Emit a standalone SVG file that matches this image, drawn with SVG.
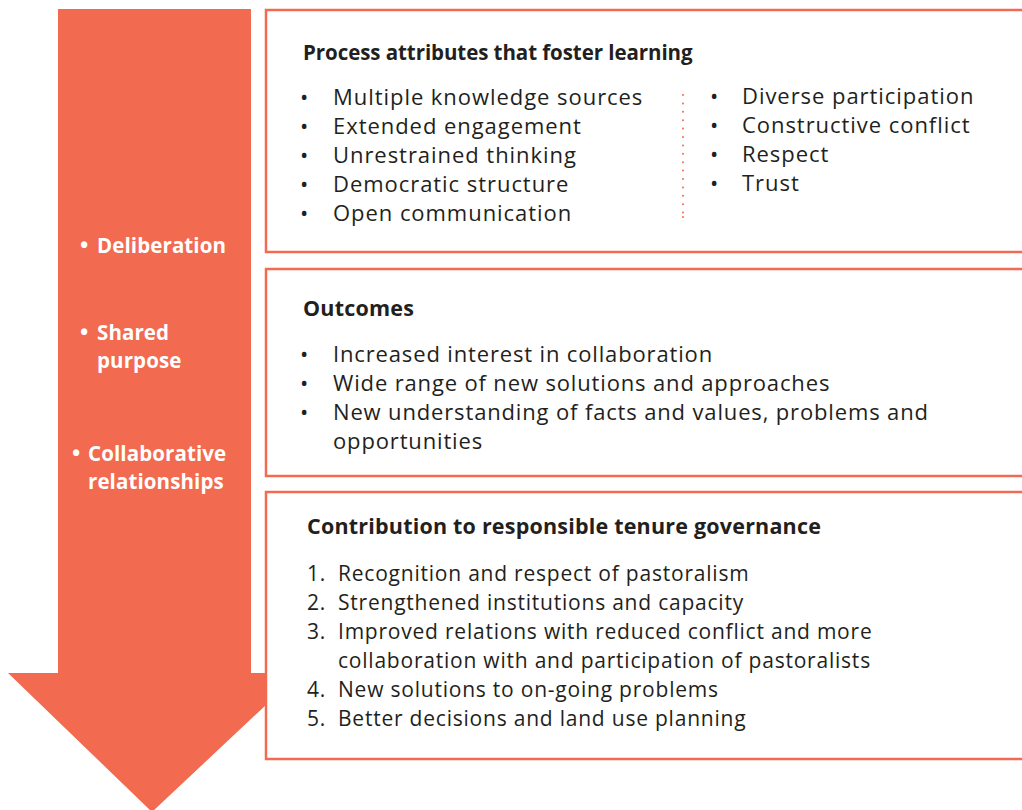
<svg xmlns="http://www.w3.org/2000/svg" width="1022" height="810" viewBox="0 0 1022 810">
<style>
.box{fill:#fff;stroke:#f26a4f;stroke-width:2.5}
.t{font-family:"Open Sans","Noto Sans",sans-serif;font-size:22px;fill:#231f20;letter-spacing:0.95px}
.t2{font-family:"Open Sans","Noto Sans",sans-serif;font-size:22px;fill:#231f20;letter-spacing:0.85px}
.t3{font-family:"Open Sans","Noto Sans",sans-serif;font-size:21px;fill:#231f20;letter-spacing:0.78px}
.h{font-family:"Open Sans","Noto Sans",sans-serif;font-size:20.5px;font-weight:bold;fill:#231f20;letter-spacing:-0.07px}
.h2{font-family:"Open Sans","Noto Sans",sans-serif;font-size:21.5px;font-weight:bold;fill:#231f20;letter-spacing:0.2px}
.w{font-family:"Open Sans","Noto Sans",sans-serif;font-size:20.5px;font-weight:bold;fill:#fff;letter-spacing:0.1px}
.b{font-family:"Open Sans","Noto Sans",sans-serif;font-size:22px;fill:#231f20}
.wb{font-family:"Open Sans","Noto Sans",sans-serif;font-size:22px;font-weight:bold;fill:#fff}
</style>
<g id="arrow">
<polygon points="58,9 251,9 251,673 300,673 152,812 8,673 58,673" fill="#f26a4f"/>
<text class="wb" x="80" y="253">•</text><text class="w" x="97" y="253">Deliberation</text>
<text class="wb" x="80" y="340">•</text><text class="w" x="97" y="340">Shared</text>
<text class="w" x="97" y="368">purpose</text>
<text class="wb" x="72" y="461">•</text><text class="w" x="88" y="461">Collaborative</text>
<text class="w" x="88" y="489">relationships</text>
</g>
<g id="process">
<rect class="box" x="266" y="10" width="800" height="242"/>
<text class="h" x="303" y="60">Process attributes that foster learning</text>
<g class="b"><text x="300" y="105">•</text><text x="300" y="134">•</text><text x="300" y="163">•</text><text x="300" y="192">•</text><text x="300" y="221">•</text>
<text x="710" y="104">•</text><text x="710" y="133">•</text><text x="710" y="162">•</text><text x="710" y="191">•</text></g>
<text class="t" x="333" y="105">Multiple knowledge sources</text>
<text class="t" x="333" y="134">Extended engagement</text>
<text class="t" x="333" y="163">Unrestrained thinking</text>
<text class="t" x="333" y="192">Democratic structure</text>
<text class="t" x="333" y="221">Open communication</text>
<text class="t" x="742" y="104">Diverse participation</text>
<text class="t" x="742" y="133">Constructive conflict</text>
<text class="t" x="742" y="162">Respect</text>
<text class="t" x="742" y="191">Trust</text>
<line x1="683" y1="95" x2="683" y2="214" stroke="#f26a4f" stroke-width="2" stroke-linecap="round" stroke-dasharray="0 8.4"/>
<circle cx="683" cy="217" r="1" fill="#f26a4f"/>
</g>
<g id="outcomes">
<rect class="box" x="266" y="269" width="800" height="207"/>
<text class="h2" x="303" y="316">Outcomes</text>
<g class="b"><text x="300" y="362">•</text><text x="300" y="391">•</text><text x="300" y="420">•</text></g>
<text class="t2" x="333" y="362">Increased interest in collaboration</text>
<text class="t2" x="333" y="391">Wide range of new solutions and approaches</text>
<text class="t2" x="333" y="420">New understanding of facts and values, problems and</text>
<text class="t2" x="333" y="449">opportunities</text>
</g>
<g id="contribution">
<rect class="box" x="266" y="492" width="800" height="267"/>
<text class="h2" x="307" y="534">Contribution to responsible tenure governance</text>
<text class="t3" x="307" y="581">1.</text><text class="t3" x="338" y="581">Recognition and respect of pastoralism</text>
<text class="t3" x="307" y="610">2.</text><text class="t3" x="338" y="610">Strengthened institutions and capacity</text>
<text class="t3" x="307" y="639">3.</text><text class="t3" x="338" y="639">Improved relations with reduced conflict and more</text>
<text class="t3" x="338" y="668">collaboration with and participation of pastoralists</text>
<text class="t3" x="307" y="697">4.</text><text class="t3" x="338" y="697">New solutions to on-going problems</text>
<text class="t3" x="307" y="726">5.</text><text class="t3" x="338" y="726">Better decisions and land use planning</text>
</g>
<g id="connectors"/>
</svg>
